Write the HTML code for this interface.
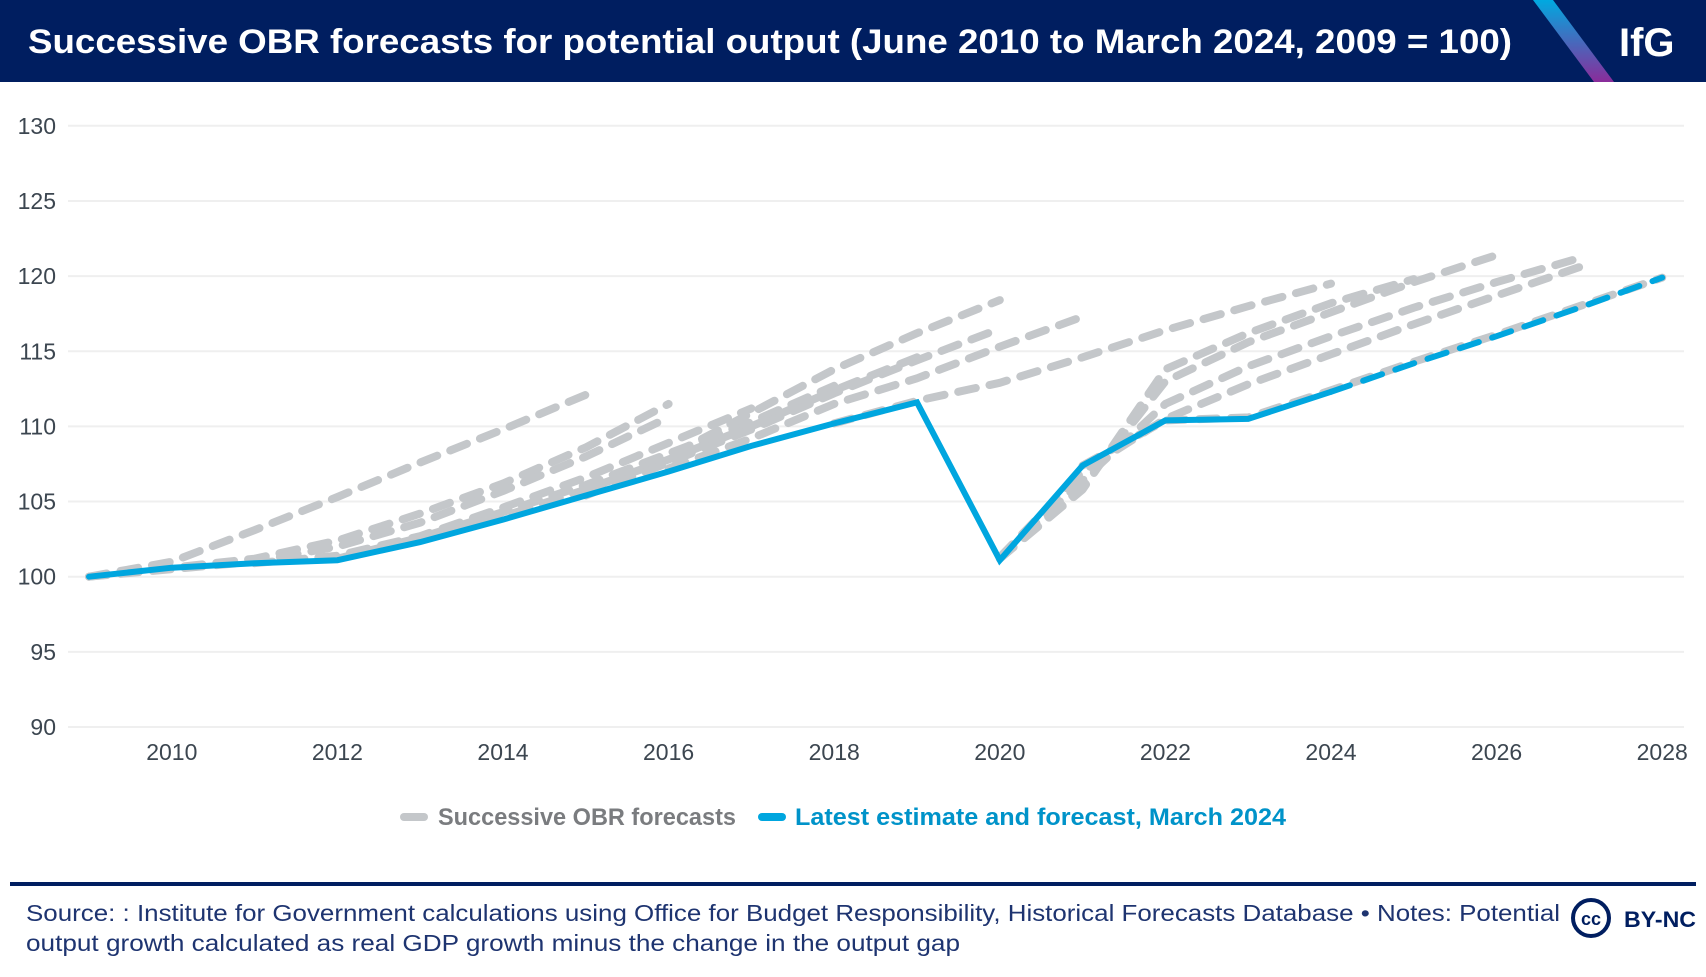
<!DOCTYPE html>
<html><head><meta charset="utf-8"><style>
html,body{margin:0;padding:0;background:#fff;}
body{width:1706px;height:972px;overflow:hidden;font-family:"Liberation Sans",sans-serif;}
</style></head><body>
<svg width="1706" height="972" viewBox="0 0 1706 972" xmlns="http://www.w3.org/2000/svg">
<defs><linearGradient id="stripe" x1="0" y1="0" x2="0" y2="1"><stop offset="0" stop-color="#00a9e0"/><stop offset="1" stop-color="#8a2c9a"/></linearGradient></defs>
<rect x="0" y="0" width="1706" height="82" fill="#001e60"/>
<text x="28" y="53" fill="#fff" font-size="34" font-weight="bold" textLength="1484" lengthAdjust="spacingAndGlyphs">Successive OBR forecasts for potential output (June 2010 to March 2024, 2009 = 100)</text>
<polygon points="1533,0 1553,0 1614,82 1594,82" fill="url(#stripe)"/>
<text x="1619" y="56" fill="#fff" font-size="40" font-weight="bold">IfG</text>
<g id="grid"></g><g id="yt"></g><g id="xt"></g><g id="series"></g>
<g>
<line x1="404" y1="817" x2="424" y2="817" stroke="#c4c7ca" stroke-width="8" stroke-linecap="round"/>
<text x="438" y="825" font-size="24" font-weight="bold" fill="#7a7c7f" textLength="298" lengthAdjust="spacingAndGlyphs">Successive OBR forecasts</text>
<line x1="762" y1="817" x2="782" y2="817" stroke="#00a6df" stroke-width="8" stroke-linecap="round"/>
<text x="795" y="825" font-size="24" font-weight="bold" fill="#0093c9" textLength="491" lengthAdjust="spacingAndGlyphs">Latest estimate and forecast, March 2024</text>
</g>
<rect x="10" y="882" width="1686" height="4" fill="#001e60"/>
<text x="26" y="921" font-size="23" fill="#1e3470" textLength="1534" lengthAdjust="spacingAndGlyphs">Source: : Institute for Government calculations using Office for Budget Responsibility, Historical Forecasts Database • Notes: Potential</text>
<text x="26" y="951" font-size="23" fill="#1e3470" textLength="934" lengthAdjust="spacingAndGlyphs">output growth calculated as real GDP growth minus the change in the output gap</text>
<g>
<circle cx="1591" cy="918" r="18" fill="none" stroke="#001e60" stroke-width="4"/>
<text x="1591" y="925" font-size="18" font-weight="bold" fill="#001e60" text-anchor="middle">cc</text>
<text x="1624" y="927" font-size="22" font-weight="bold" fill="#001e60" textLength="72" lengthAdjust="spacingAndGlyphs">BY-NC</text>
</g>
</svg>
<script>
const yTicks=[90,95,100,105,110,115,120,125,130];
const xTicks=[2010,2012,2014,2016,2018,2020,2022,2024,2026,2028];
const latestYears=[2009,2010,2011,2012,2013,2014,2015,2016,2017,2018,2019,2020,2021,2022,2023,2024,2025,2026,2027,2028];
const latestValues=[100,100.6,100.9,101.1,102.3,103.8,105.4,107.0,108.7,110.2,111.6,101.1,107.4,110.4,110.5,112.3,114.2,116.0,117.9,119.9];
const latestForecastFrom=2024;
const f1Years=[2009,2010,2011,2012,2013,2014,2015];
const f1Values=[100,101.0,103.1,105.3,107.6,109.8,112.1];
const f2Years=[2009,2010,2011,2012,2013,2014,2015,2016];
const f2Values=[100,100.6,101.2,102.4,104.2,106.2,108.6,111.5];
const f3Years=[2009,2010,2011,2012,2013,2014,2015,2016];
const f3Values=[100,100.5,101.0,102.0,103.6,105.7,108.0,110.6];
const q1Years=[2011,2012,2013,2014,2015,2016,2017];
const q1Values=[100.9,101.4,102.7,104.6,106.6,108.9,111.2];
const q2Years=[2012,2013,2014,2015,2016,2017,2018];
const q2Values=[101.2,102.6,104.3,106.1,108.2,110.3,112.7];
const q3Years=[2013,2014,2015,2016,2017,2018,2019];
const q3Values=[102.4,104.0,105.8,107.8,110.0,112.4,114.6];
const q4Years=[2015,2016,2017,2018,2019,2020];
const q4Values=[105.6,108.0,110.9,113.8,116.2,118.4];
const q5Years=[2015,2016,2017,2018,2019,2020];
const q5Values=[105.4,107.6,109.8,112.2,114.4,116.5];
const q6Years=[2016,2017,2018,2019,2020,2021];
const q6Values=[107.2,109.2,111.5,113.2,115.3,117.3];
const q7Years=[2018,2019,2020,2021,2022,2023,2024];
const q7Values=[110.2,111.7,112.9,114.6,116.4,118.0,119.5];
const p1Years=[2020,2021,2022,2023,2024,2025];
const p1Values=[101.2,105.8,113.8,116.2,118.2,119.8];
const p2Years=[2020,2021,2022,2023,2024,2025,2026];
const p2Values=[101.2,106.0,113.0,115.6,117.6,119.6,121.4];
const p3Years=[2020,2021,2022,2023,2024,2025,2026,2027];
const p3Values=[101.3,106.4,111.5,114.0,116.0,117.9,119.6,121.2];
const p4Years=[2020,2021,2022,2023,2024,2025,2026,2027];
const p4Values=[101.3,107.0,110.5,112.8,114.8,116.8,118.7,120.6];
const p5Years=[2021,2022,2023,2024,2025,2026,2027,2028];
const p5Values=[107.4,110.4,110.6,112.4,114.3,116.1,118.0,119.9];

const NS='http://www.w3.org/2000/svg';
const X0=89, XPY=82.8, Y0=727, YPU=15.03;
function xs(yr){return X0+(yr-2009)*XPY;}
function ys(v){return Y0-(v-90)*YPU;}
function mk(tag,attrs,parent){const e=document.createElementNS(NS,tag);for(const k in attrs)e.setAttribute(k,attrs[k]);parent.appendChild(e);return e;}
const grid=document.getElementById('grid'),yt=document.getElementById('yt'),xt=document.getElementById('xt'),ser=document.getElementById('series');
yTicks.forEach(v=>{
 const l=mk('line',{x1:68,x2:1684,y1:ys(v),y2:ys(v),stroke:'#efefef','stroke-width':2},grid);
 
 
 const t=mk('text',{x:56,y:ys(v)+8,'text-anchor':'end','font-size':23,fill:'#3c4650'},yt);
 t.textContent=v;
 
 
});
xTicks.forEach(yr=>{
 const t=mk('text',{x:xs(yr),y:760,'text-anchor':'middle','font-size':23,fill:'#3c4650'},xt);
 t.textContent=yr;
 
 
});
function pts(ya,va){return ya.map((y,i)=>xs(y).toFixed(1)+','+ys(va[i]).toFixed(1)).join(' ');}
const grays=[[f1Years,f1Values],[f2Years,f2Values],[f3Years,f3Values],[q1Years,q1Values],[q2Years,q2Values],[q3Years,q3Values],[q4Years,q4Values],[q5Years,q5Values],[q6Years,q6Values],[q7Years,q7Values],[p1Years,p1Values],[p2Years,p2Values],[p3Years,p3Values],[p4Years,p4Values],[p5Years,p5Values]];
grays.forEach((s,i)=>{
 const p=mk('polyline',{points:pts(s[0],s[1]),fill:'none',stroke:'#c4c7ca','stroke-width':8,'stroke-dasharray':'18 14','stroke-linecap':'round','stroke-linejoin':'round'},ser);
 
 
});
const si=latestYears.indexOf(latestForecastFrom);
const solid=mk('polyline',{points:pts(latestYears.slice(0,si+1),latestValues.slice(0,si+1)),fill:'none',stroke:'#00a6df','stroke-width':6,'stroke-linejoin':'miter','stroke-linecap':'round'},ser);


const dash=mk('polyline',{points:pts(latestYears.slice(si),latestValues.slice(si)),fill:'none',stroke:'#00a6df','stroke-width':6,'stroke-dasharray':'20 14','stroke-linecap':'round'},ser);


</script>
</body></html>
